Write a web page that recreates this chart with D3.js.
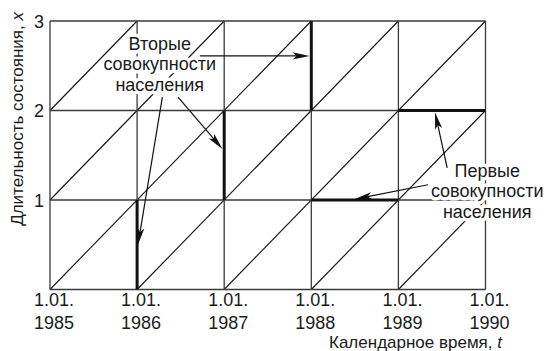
<!DOCTYPE html>
<html><head><meta charset="utf-8">
<script src="https://cdn.jsdelivr.net/npm/d3@7"></script>
<style>
html,body{margin:0;padding:0;background:#fff;}
svg text{font-family:"Liberation Sans",Arial,sans-serif;fill:#1a1a1a;}
</style></head>
<body><svg id="c" width="550" height="351"></svg>
<script>
// ---- data ----
const years = [1985, 1986, 1987, 1988, 1989, 1990];
const yearLabels = ["1985", "1986", "1987", "1988", "1989", "1990"];
const durations = [0, 1, 2, 3];
const durationLabels = ["", "1", "2", "3"];
const diagonalStarts = [1982, 1983, 1984, 1985, 1986, 1987, 1988, 1989];
// second populations: vertical segments (time t, duration from x0 to x1)
const secondPops = [
  {t: 1986, x0: 0, x1: 1},
  {t: 1987, x0: 1, x1: 2},
  {t: 1988, x0: 2, x1: 3}
];
// first populations: horizontal segments (duration x, time from t0 to t1)
const firstPops = [
  {x: 1, t0: 1988, t1: 1989},
  {x: 2, t0: 1989, t1: 1990}
];
const secondLabel = ["Вторые", "совокупности", "населения"];
const firstLabel = ["Первые", "совокупности", "населения"];
const secondLabelAt = {t: 1986.26, x: 2.68};
const firstLabelAt = {t: 1990.02, x: 1.26};
const arrows = [
  {from: [1986.72, 2.61], to: [1987.98, 2.61]},
  {from: [1986.47, 2.15], to: [1986.98, 1.57]},
  {from: [1986.29, 2.15], to: [1986.01, 0.50]},
  {from: [1989.56, 1.36], to: [1989.42, 1.98]},
  {from: [1989.34, 1.17], to: [1988.50, 1.01]}
];
const xTitle = "Календарное время, ";
const xTitleVar = "t";
const yTitle = "Длительность состояния, ";
const yTitleVar = "x";

// ---- drawing ----
const svg = d3.select("#c");
const X = d3.scaleLinear().domain([1985, 1990]).range([50, 485.5]);
const Y = d3.scaleLinear().domain([0, 3]).range([289.5, 21]);

const g = svg.append("g");
const gridColor = "#3a3a3a";

// diagonals
diagonalStarts.forEach(c => {
  const x0 = Math.max(0, 1985 - c), x1 = Math.min(3, 1990 - c);
  if (x1 <= x0) return;
  g.append("line")
    .attr("x1", X(c + x0)).attr("y1", Y(x0))
    .attr("x2", X(c + x1)).attr("y2", Y(x1))
    .attr("stroke", "#111").attr("stroke-width", 1.1);
});
// vertical grid
g.selectAll(".vg").data(years).enter().append("line")
  .attr("x1", d => X(d)).attr("x2", d => X(d))
  .attr("y1", Y(0)).attr("y2", Y(3))
  .attr("stroke", gridColor).attr("stroke-width", 1.3);
// horizontal grid
g.selectAll(".hg").data(durations).enter().append("line")
  .attr("x1", X(1985)).attr("x2", X(1990))
  .attr("y1", d => Y(d)).attr("y2", d => Y(d))
  .attr("stroke", gridColor).attr("stroke-width", 1.3);

// thick segments
g.selectAll(".sp").data(secondPops).enter().append("line")
  .attr("x1", d => X(d.t)).attr("x2", d => X(d.t))
  .attr("y1", d => Y(d.x0)).attr("y2", d => Y(d.x1))
  .attr("stroke", "#111").attr("stroke-width", 3);
g.selectAll(".fp").data(firstPops).enter().append("line")
  .attr("x1", d => X(d.t0)).attr("x2", d => X(d.t1))
  .attr("y1", d => Y(d.x)).attr("y2", d => Y(d.x))
  .attr("stroke", "#111").attr("stroke-width", 3);

// axis tick labels
const xl = svg.selectAll(".xl").data(years).enter().append("text")
  .attr("x", d => X(d) + 4).attr("text-anchor", "middle")
  .style("font-size", "18px");
xl.append("tspan").attr("x", d => X(d) + 4).attr("y", 306).text("1.01.");
xl.append("tspan").attr("x", d => X(d) + 4).attr("y", 329).text((d, i) => yearLabels[i]);

svg.selectAll(".yl").data(durations).enter().append("text")
  .attr("x", 44).attr("y", d => Y(d) + 6.5)
  .attr("text-anchor", "end").style("font-size", "18px")
  .text((d, i) => durationLabels[i]);

// axis titles
const xt = svg.append("text").attr("x", 502).attr("y", 348)
  .attr("text-anchor", "end").style("font-size", "17px").text(xTitle);
xt.append("tspan").style("font-style", "italic").text(xTitleVar);
const yt = svg.append("text").attr("transform", "translate(23,12) rotate(-90)")
  .attr("text-anchor", "end").style("font-size", "17px").text(yTitle);
yt.append("tspan").style("font-style", "italic").text(yTitleVar);

// labels with white halo
function label(lines, at) {
  const t = svg.append("text").attr("text-anchor", "middle")
    .style("font-size", "18px")
    .attr("stroke", "#fff").attr("stroke-width", 7)
    .attr("stroke-linejoin", "round").attr("paint-order", "stroke");
  lines.forEach((s, i) => {
    t.append("tspan").attr("x", X(at.t)).attr("y", Y(at.x) + i * 20.5).text(s);
  });
}
label(secondLabel, secondLabelAt);
label(firstLabel, firstLabelAt);

// arrows
arrows.forEach(a => {
  const x1 = X(a.from[0]), y1 = Y(a.from[1]);
  const x2 = X(a.to[0]), y2 = Y(a.to[1]);
  const dx = x2 - x1, dy = y2 - y1, L = Math.hypot(dx, dy);
  const ux = dx / L, uy = dy / L, px = -uy, py = ux;
  const hl = 17, hw = 3.6;
  const bx = x2 - ux * hl, by = y2 - uy * hl;
  svg.append("line").attr("x1", x1).attr("y1", y1).attr("x2", bx + ux * 4).attr("y2", by + uy * 4)
    .attr("stroke", "#111").attr("stroke-width", 1.2);
  svg.append("path")
    .attr("d", `M${x2},${y2}L${bx + px * hw},${by + py * hw}L${bx + ux * 4},${by + uy * 4}L${bx - px * hw},${by - py * hw}Z`)
    .attr("fill", "#111");
});
</script></body></html>
